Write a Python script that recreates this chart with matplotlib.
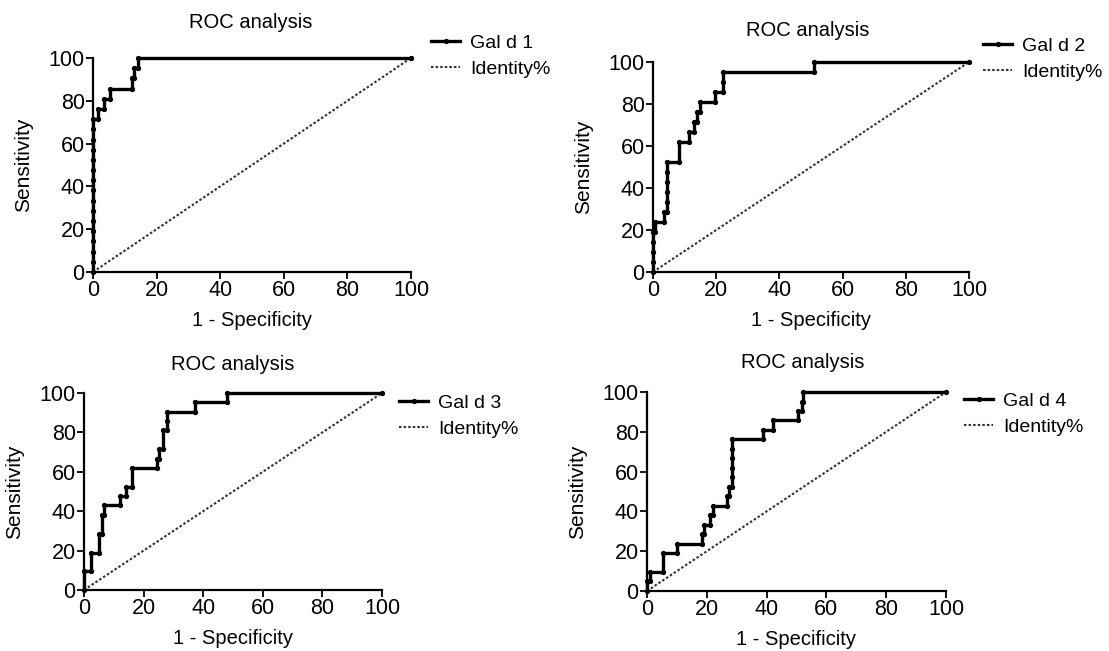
import numpy as np
import matplotlib
matplotlib.use("Agg")
import matplotlib.pyplot as plt

plt.rcParams['font.family'] = ['Liberation Sans', 'DejaVu Sans']

# ROC curve points (1 - specificity %, sensitivity %)
fpr_1 = [0] * 16 + [1.5, 1.5, 3.4, 3.4, 5.4, 5.4, 12.3, 12.3, 12.8, 12.8, 14, 14, 100]
tpr_1 = [0, 4.8, 9.5, 14.3, 19.0, 23.8, 28.6, 33.3, 38.1, 42.9, 47.6, 52.4, 57.1, 61.9, 66.7, 71.4,
         71.4, 76.2, 76.2, 81.0, 81.0, 85.7, 85.7, 90.5, 90.5, 95.2, 95.2, 100, 100]

fpr_2 = [0, 0, 0, 0, 0, 0.7, 0.7, 3.4, 3.4, 4.4, 4.4, 4.4, 4.4, 4.4, 4.4, 8.1, 8.1, 11.3, 11.3,
         13, 13, 13.9, 13.9, 15, 15, 19.5, 19.5, 22.1, 22.1, 22.1, 51, 51, 100]
tpr_2 = [0, 4.8, 9.5, 14.3, 19.0, 19.0, 23.8, 23.8, 28.6, 28.6, 33.3, 38.1, 42.9, 47.6, 52.4,
         52.4, 61.9, 61.9, 66.7, 66.7, 71.4, 71.4, 76.2, 76.2, 81.0, 81.0, 85.7, 85.7, 90.5, 95.2,
         95.2, 100, 100]

fpr_3 = [0, 0, 2.2, 2.2, 5.1, 5.1, 6.0, 6.0, 6.7, 6.7, 12, 12, 14, 14, 16, 16,
         24.4, 24.4, 25.3, 25.3, 26.4, 26.4, 27.8, 27.8, 27.8, 37.3, 37.3, 48.1, 48.1, 100]
tpr_3 = [0, 9.5, 9.5, 19.0, 19.0, 28.6, 28.6, 38.1, 38.1, 42.9, 42.9, 47.6, 47.6, 52.4, 52.4, 61.9,
         61.9, 66.7, 66.7, 71.4, 71.4, 81.0, 81.0, 85.7, 90.5, 90.5, 95.2, 95.2, 100, 100]

fpr_4 = [0, 0, 0.9, 0.9, 5.3, 5.3, 10, 10, 18.3, 18.3, 19.1, 19.1, 21.1, 21.1, 22, 22,
         26.7, 26.7, 27.4, 27.4, 28.3, 28.3, 28.3, 28.3, 28.3, 28.3, 38.7, 38.7, 42.2, 42.2,
         50.6, 50.6, 51.7, 51.7, 52.2, 52.2, 100]
tpr_4 = [0, 4.8, 4.8, 9.5, 9.5, 19.0, 19.0, 23.8, 23.8, 28.6, 28.6, 33.3, 33.3, 38.1, 38.1, 42.9,
         42.9, 47.6, 47.6, 52.4, 52.4, 57.1, 61.9, 66.7, 71.4, 76.2, 76.2, 81.0, 81.0, 85.7,
         85.7, 90.5, 90.5, 95.2, 95.2, 100, 100]

identity = [0, 100]
labels = ["Gal d 1", "Gal d 2", "Gal d 3", "Gal d 4"]
ticks = [0, 20, 40, 60, 80, 100]

W, H = 1109, 651
fig = plt.figure(figsize=(W / 100, H / 100), dpi=100)

# pixel boxes: left, right, top, bottom
boxes = [(93, 411, 58, 272), (653, 969, 62, 272), (84, 382, 393, 590), (647, 946, 392, 591)]
titles_at = [(251, 23), (808, 30), (233, 365), (803, 363)]
legend_at = [(431, 34), (983, 37), (399, 394), (964, 392)]
curves = [(fpr_1, tpr_1), (fpr_2, tpr_2), (fpr_3, tpr_3), (fpr_4, tpr_4)]

for i in range(4):
    l, r, t, b = boxes[i]
    ax = fig.add_axes([l / W, 1 - b / H, (r - l) / W, (b - t) / H])
    fx, ty = curves[i]
    ax.plot(fx, ty, color='black', lw=2.4, marker='o', ms=2.8, clip_on=False,
            label=labels[i], zorder=3)
    ax.plot(identity, identity, color='#333333', lw=1.5, ls=(0, (1.2, 1.0)),
            clip_on=False, label='Identity%', zorder=2)
    ax.set_xlim(0, 100)
    ax.set_ylim(0, 100)
    ax.set_xticks(ticks)
    ax.set_yticks(ticks)
    for s in ['top', 'right']:
        ax.spines[s].set_visible(False)
    for s in ['left', 'bottom']:
        ax.spines[s].set_linewidth(1.6)
    ax.tick_params(direction='out', length=5, width=1.3, labelsize=15.5, pad=1)
    ax.set_xlabel("1 - Specificity", fontsize=14.5, labelpad=7)
    ax.set_ylabel("Sensitivity", fontsize=15, labelpad=11)
    tx, tyy = titles_at[i]
    fig.text(tx / W, 1 - tyy / H, "ROC analysis", fontsize=14.5, ha='center', va='center')
    lx, ly = legend_at[i]
    ax.legend(loc='upper left', bbox_to_anchor=(lx / W, 1 - ly / H),
              bbox_transform=fig.transFigure, frameon=False, fontsize=14,
              handlelength=1.5, handletextpad=0.5, labelspacing=0.45, borderpad=0,
              borderaxespad=0)

fig.savefig("out.png", dpi=100)
